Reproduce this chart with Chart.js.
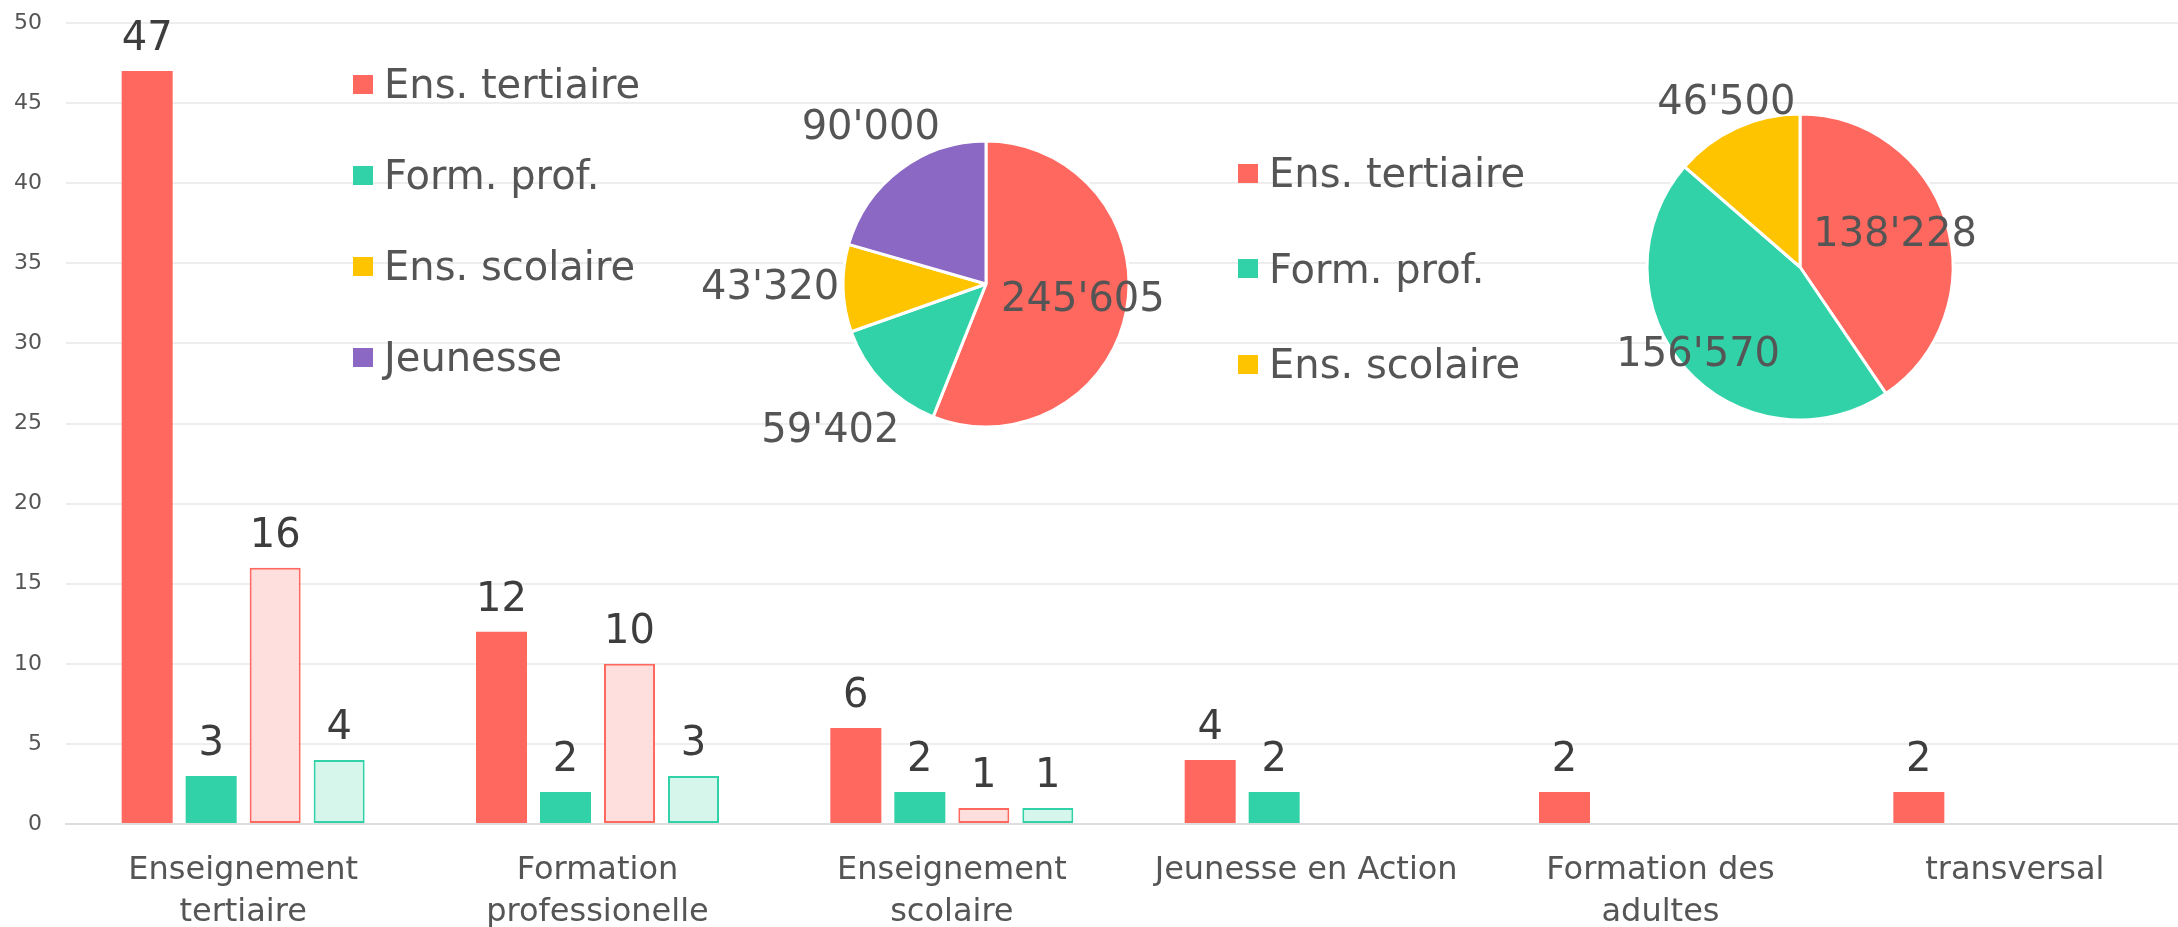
<!DOCTYPE html>
<html>
<head>
<meta charset="utf-8">
<script src="https://cdn.jsdelivr.net/npm/chart.js@4.4.0/dist/chart.umd.min.js"></script>
<style>
  html, body { margin: 0; padding: 0; background: #fff; overflow: hidden; }
  #wrap { position: relative; width: 2178px; height: 927px; overflow: hidden; }
  #bars { position: absolute; left: 0; top: 0; }
  .pie { position: absolute; }
  .legend { position: absolute; top: 0; margin: 0; padding: 0; list-style: none;
            font: 40px "DejaVu Sans"; color: #555; }
  .legend li { position: absolute; left: 0; height: 60px; display: flex; align-items: center; white-space: nowrap; }
  .legend .box { display: inline-block; width: 20px; height: 19px; margin-right: 11px; }
</style>
</head>
<body>
<div id="wrap">
  <canvas id="bars" width="2200" height="927"></canvas>
  <canvas id="pie1" class="pie" width="640" height="560" style="left:666px;top:4px"></canvas>
  <canvas id="pie2" class="pie" width="560" height="520" style="left:1520px;top:7px"></canvas>
  <ul id="legend1" class="legend" style="left:353px"></ul>
  <ul id="legend2" class="legend" style="left:1238px"></ul>
</div>
<script>
// bar chart data
const categories = [
  ['Enseignement', 'tertiaire'],
  ['Formation', 'professionelle'],
  ['Enseignement', 'scolaire'],
  'Jeunesse en Action',
  ['Formation des', 'adultes'],
  'transversal'
];
const seriesA = [47, 12, 6, 4, 2, 2];
const seriesB = [3, 2, 2, 2, null, null];
const seriesC = [16, 10, 1, null, null, null];
const seriesD = [4, 3, 1, null, null, null];
const yTicks = [0, 5, 10, 15, 20, 25, 30, 35, 40, 45, 50];

// pie data
const pie1Labels = ['Ens. tertiaire', 'Form. prof.', 'Ens. scolaire', 'Jeunesse'];
const pie1Values = [245605, 59402, 43320, 90000];
const pie2Labels = ['Ens. tertiaire', 'Form. prof.', 'Ens. scolaire'];
const pie2Values = [138228, 156570, 46500];

const RED = 'rgb(255,104,94)';
const GREEN = 'rgb(49,210,168)';
const PINK = 'rgb(255,223,221)';
const MINT = 'rgb(214,246,236)';
const YELLOW = 'rgb(255,196,0)';
const PURPLE = 'rgb(139,104,196)';

Chart.defaults.font.family = '"DejaVu Sans"';
Chart.defaults.color = '#555';
Chart.defaults.animation = false;

const fmt = v => String(v).replace(/\B(?=(\d{3})+(?!\d))/g, "'");

const barValueLabels = {
  id: 'barValueLabels',
  afterDatasetsDraw(chart) {
    const ctx = chart.ctx;
    ctx.save();
    ctx.font = '40px "DejaVu Sans"';
    ctx.fillStyle = '#3d3d3d';
    ctx.textAlign = 'center';
    ctx.textBaseline = 'alphabetic';
    chart.data.datasets.forEach((ds, i) => {
      chart.getDatasetMeta(i).data.forEach((bar, j) => {
        const v = ds.data[j];
        if (v == null) return;
        ctx.fillText(v, bar.x, bar.y - 21);
      });
    });
    ctx.restore();
  }
};

const pieValueLabels = {
  id: 'pieValueLabels',
  afterDatasetsDraw(chart, args, opts) {
    const ctx = chart.ctx;
    const vals = chart.data.datasets[0].data;
    ctx.save();
    ctx.font = '40px "DejaVu Sans"';
    ctx.fillStyle = '#555';
    ctx.textAlign = 'center';
    ctx.textBaseline = 'middle';
    chart.getDatasetMeta(0).data.forEach((arc, i) => {
      const mid = (arc.startAngle + arc.endAngle) / 2;
      const r = arc.outerRadius * opts.radial[i];
      ctx.fillText(fmt(vals[i]), arc.x + Math.cos(mid) * r, arc.y + Math.sin(mid) * r - 2);
    });
    ctx.restore();
  }
};

new Chart(document.getElementById('bars'), {
  type: 'bar',
  data: {
    labels: categories,
    datasets: [
      { data: seriesA, backgroundColor: RED },
      { data: seriesB, backgroundColor: GREEN },
      { data: seriesC, backgroundColor: PINK, borderColor: RED, borderWidth: 2, borderSkipped: false },
      { data: seriesD, backgroundColor: MINT, borderColor: GREEN, borderWidth: 2, borderSkipped: false }
    ]
  },
  options: {
    responsive: false,
    categoryPercentage: 0.7224,
    barPercentage: 0.797,
    layout: { padding: { left: 0, right: 8, top: 23, bottom: 0 } },
    plugins: { legend: { display: false }, tooltip: { enabled: false } },
    scales: {
      x: {
        afterFit(scale) { scale.height = 103; scale.paddingLeft = 0; scale.paddingRight = 0; },
        grid: { display: false, drawTicks: false },
        border: { color: '#dddddd', width: 2 },
        ticks: { font: { size: 32, lineHeight: 1.3 }, color: '#555', padding: 26, maxRotation: 0, autoSkip: false }
      },
      y: {
        min: 0,
        max: 50,
        afterFit(scale) { scale.width = 66; scale.paddingTop = 0; scale.paddingBottom = 0; },
        afterBuildTicks(scale) { scale.ticks = yTicks.map(v => ({ value: v })); },
        grid: { color: '#eeeeee', lineWidth: 2, drawTicks: false },
        border: { display: false },
        ticks: { font: { size: 22 }, color: '#555', padding: 24 }
      }
    }
  },
  plugins: [barValueLabels]
});

function pieChart(id, labels, values, colors, radius, radial) {
  return new Chart(document.getElementById(id), {
    type: 'pie',
    data: {
      labels: labels,
      datasets: [{ data: values, backgroundColor: colors, borderColor: '#fff', borderWidth: 3 }]
    },
    options: {
      responsive: false,
      radius: radius,
      layout: { padding: 0 },
      plugins: {
        legend: { display: false },
        tooltip: { enabled: false },
        pieValueLabels: { radial: radial }
      }
    },
    plugins: [pieValueLabels]
  });
}

function htmlLegend(chart, el, firstRow, step) {
  const items = chart.options.plugins.legend.labels.generateLabels(chart);
  items.forEach((it, i) => {
    const li = document.createElement('li');
    li.style.top = (firstRow + i * step - 30) + 'px';
    const box = document.createElement('span');
    box.className = 'box';
    box.style.background = it.fillStyle;
    const txt = document.createElement('span');
    txt.textContent = it.text;
    li.append(box, txt);
    el.appendChild(li);
  });
}

const pie1 = pieChart('pie1', pie1Labels, pie1Values, [RED, GREEN, YELLOW, PURPLE], 143, [0.69, 1.51, 1.51, 1.34]);
const pie2 = pieChart('pie2', pie2Labels, pie2Values, [RED, GREEN, YELLOW], 153, [0.65, 0.89, 1.16]);
htmlLegend(pie1, document.getElementById('legend1'), 84, 91);
htmlLegend(pie2, document.getElementById('legend2'), 173, 95.5);
</script>
</body>
</html>
